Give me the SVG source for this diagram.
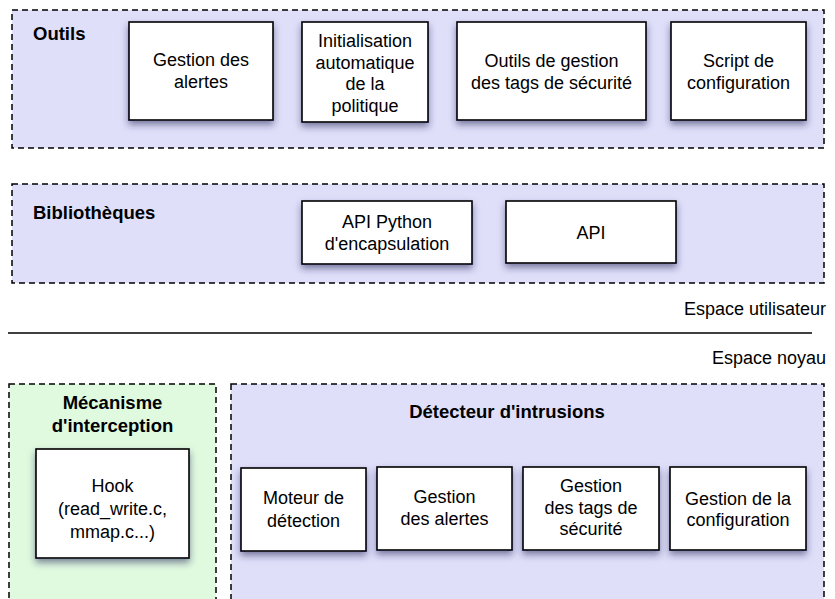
<svg xmlns="http://www.w3.org/2000/svg" width="835" height="599" viewBox="0 0 835 599">
<defs>
<filter id="sh" x="-20%" y="-20%" width="140%" height="150%">
<feDropShadow dx="0" dy="4" stdDeviation="3.5" flood-color="#2a2a5a" flood-opacity="0.55"/>
</filter>
<style>
.cont{fill:#dfdffa;stroke:#000;stroke-width:1.5;stroke-dasharray:6 4}
.contg{fill:#e0fae0;stroke:#000;stroke-width:1.5;stroke-dasharray:6 4}
.box{fill:#fff;stroke:#000;stroke-width:1.6;filter:url(#sh)}
text{font-family:"Liberation Sans",Arial,Helvetica,sans-serif;font-size:18px;fill:#000}
.c{text-anchor:middle}
.b{font-weight:bold;font-size:18.5px}
.r{text-anchor:end}
</style>
</defs>
<rect width="835" height="599" fill="#fff"/>
<g id="outils">
<rect class="cont" x="12" y="10" width="812" height="138"/>
<text class="b" x="33" y="40">Outils</text>
</g>
<g id="n-gestion-alertes">
<rect class="box" x="129" y="22" width="144" height="98"/>
<text class="c" x="201" y="66">Gestion des</text>
<text class="c" x="201" y="88">alertes</text>
</g>
<g id="n-init">
<rect class="box" x="302" y="22" width="126" height="100"/>
<text class="c" x="365" y="47">Initialisation</text>
<text class="c" x="365" y="68.5">automatique</text>
<text class="c" x="365" y="90">de la</text>
<text class="c" x="365" y="111.5">politique</text>
</g>
<g id="n-outils-tags">
<rect class="box" x="457" y="22" width="189" height="98"/>
<text class="c" x="551.5" y="67">Outils de gestion</text>
<text class="c" x="551.5" y="89">des tags de sécurité</text>
</g>
<g id="n-script">
<rect class="box" x="671" y="22" width="135" height="98"/>
<text class="c" x="738.5" y="67">Script de</text>
<text class="c" x="738.5" y="89">configuration</text>
</g>
<g id="biblio">
<rect class="cont" x="12" y="184" width="812" height="99"/>
<text class="b" x="33" y="219">Bibliothèques</text>
</g>
<g id="n-api-python">
<rect class="box" x="302" y="201" width="170" height="63"/>
<text class="c" x="387" y="228">API Python</text>
<text class="c" x="387" y="250">d'encapsulation</text>
</g>
<g id="n-api">
<rect class="box" x="506" y="201" width="170" height="62"/>
<text class="c" x="591" y="239">API</text>
</g>
<g id="separator">
<line x1="8" y1="333" x2="812" y2="333" stroke="#000" stroke-width="1.5"/>
<text class="r" x="826" y="315">Espace utilisateur</text>
<text class="r" x="826" y="364">Espace noyau</text>
</g>
<g id="mecanisme">
<rect class="contg" x="9" y="384" width="207" height="230"/>
<text class="b c" x="112.5" y="409">Mécanisme</text>
<text class="b c" x="112.5" y="432">d'interception</text>
</g>
<g id="n-hook">
<rect class="box" x="36" y="449" width="153" height="109"/>
<text class="c" x="112.5" y="492">Hook</text>
<text class="c" x="112.5" y="515">(read_write.c,</text>
<text class="c" x="112.5" y="538">mmap.c...)</text>
</g>
<g id="detecteur">
<rect class="cont" x="231" y="384" width="593" height="230"/>
<text class="b c" x="507" y="418">Détecteur d'intrusions</text>
</g>
<g id="n-moteur">
<rect class="box" x="241" y="468" width="125" height="83"/>
<text class="c" x="303.5" y="504">Moteur de</text>
<text class="c" x="303.5" y="527">détection</text>
</g>
<g id="n-gestion-alertes-k">
<rect class="box" x="377" y="467" width="135" height="83"/>
<text class="c" x="444.5" y="503">Gestion</text>
<text class="c" x="444.5" y="525">des alertes</text>
</g>
<g id="n-gestion-tags">
<rect class="box" x="523" y="467" width="136" height="83"/>
<text class="c" x="591" y="492">Gestion</text>
<text class="c" x="591" y="514">des tags de</text>
<text class="c" x="591" y="535">sécurité</text>
</g>
<g id="n-gestion-config">
<rect class="box" x="670" y="467" width="136" height="83"/>
<text class="c" x="738" y="505">Gestion de la</text>
<text class="c" x="738" y="526">configuration</text>
</g>
<g id="connectors"></g>
</svg>
